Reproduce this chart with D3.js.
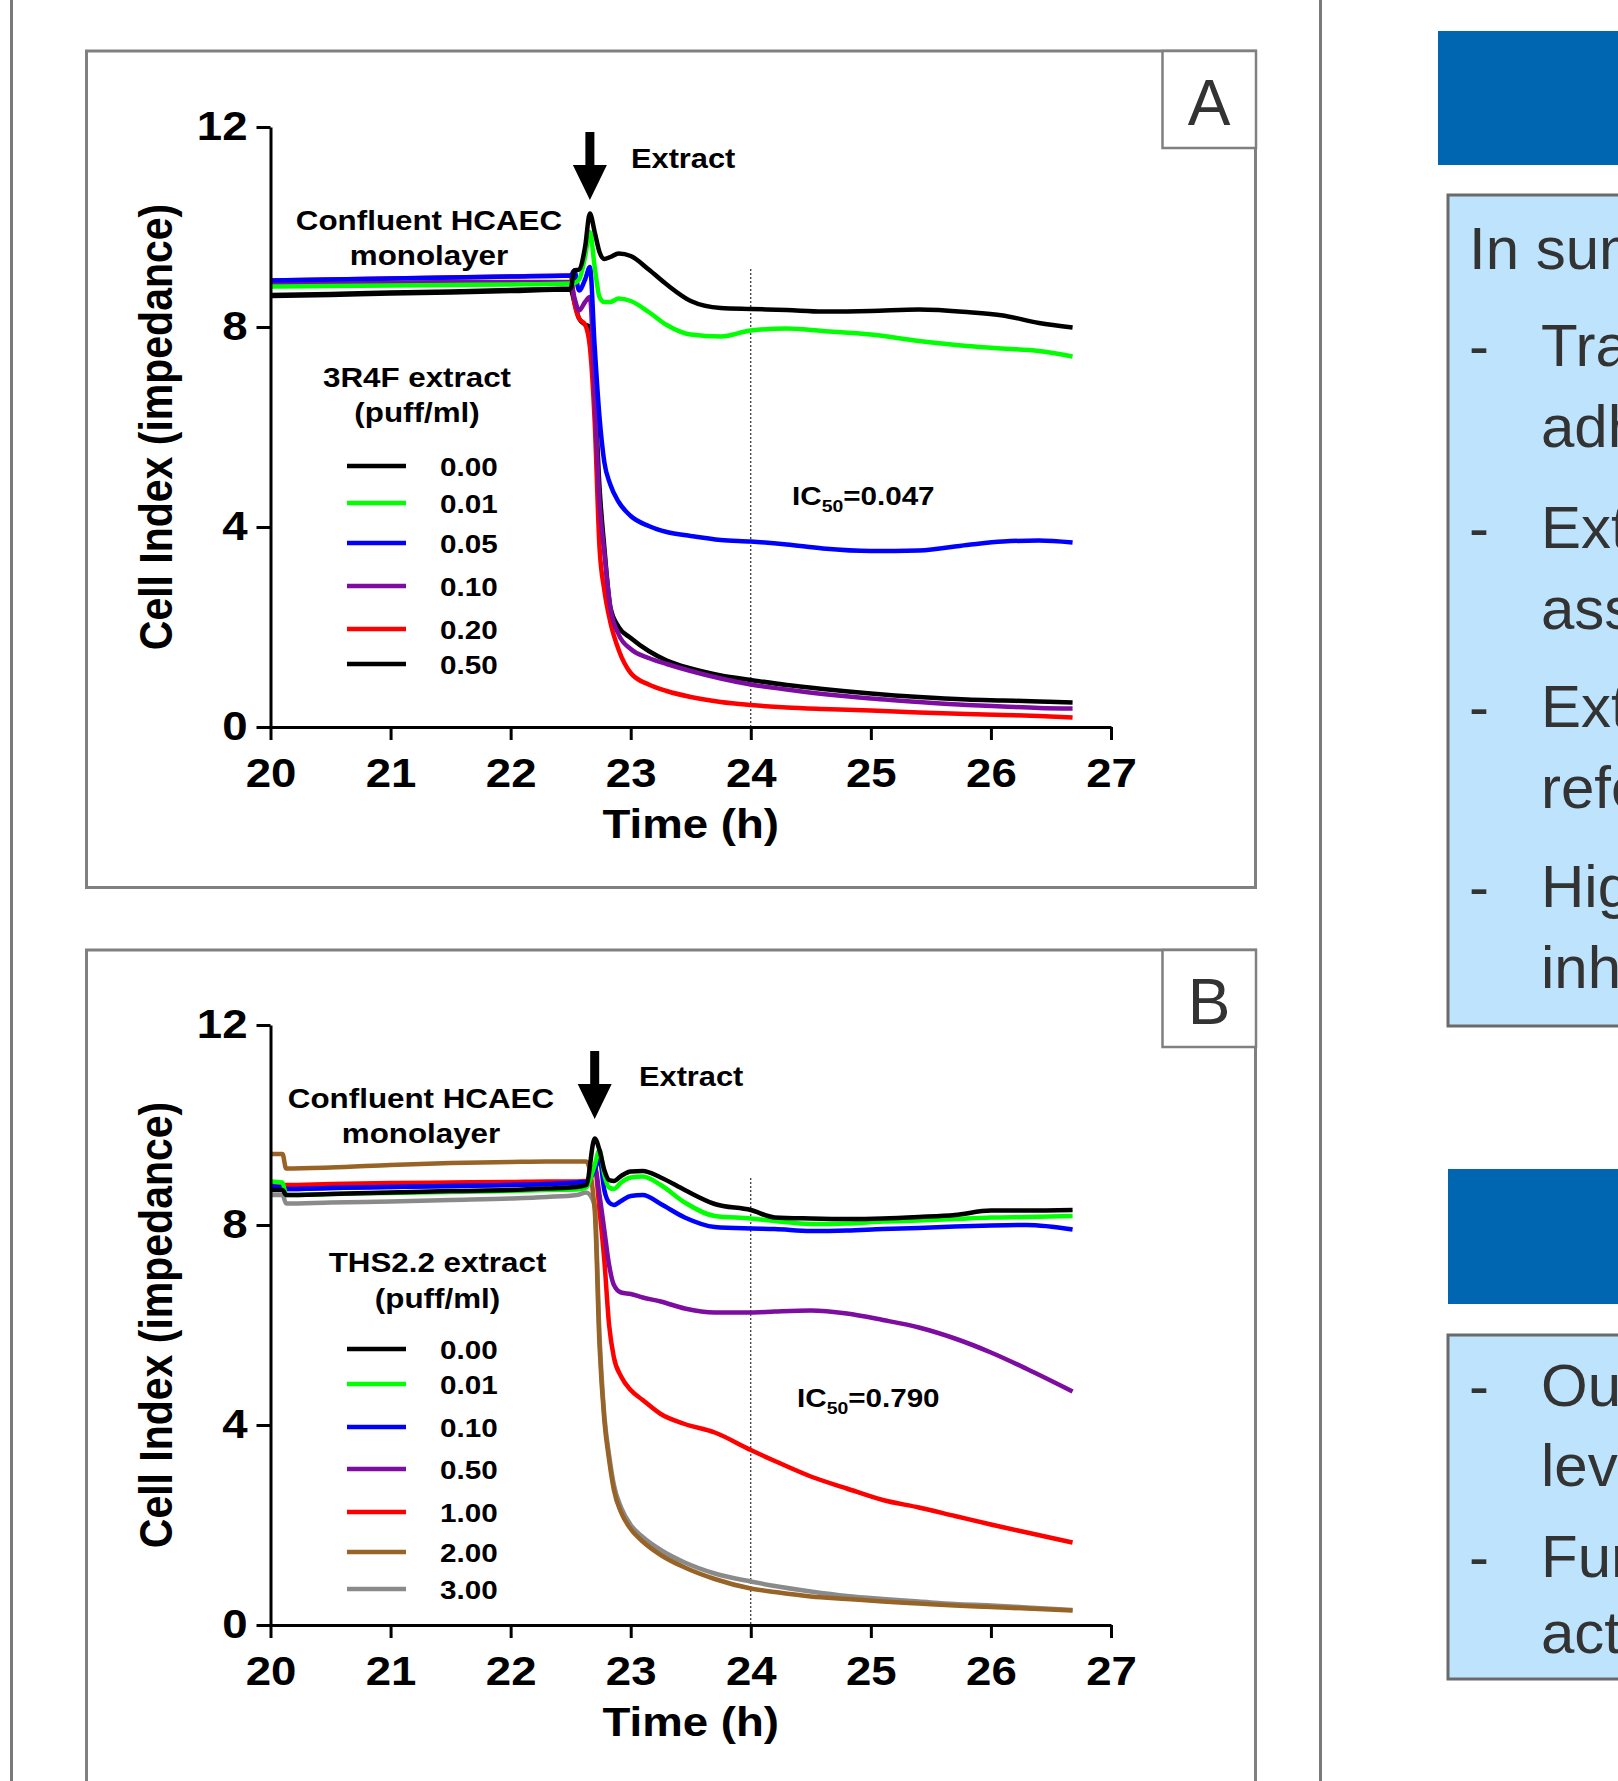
<!DOCTYPE html>
<html>
<head>
<meta charset="utf-8">
<script src="https://cdn.jsdelivr.net/npm/d3@7"></script>
<style>
  body { margin: 0; background: #fff; }
  svg { display: block; font-family: "Liberation Sans", Arial, sans-serif; }
</style>
</head>
<body>
<svg id="chart" width="1618" height="1781"></svg>
<script>
// ---- data ----
const xTicks = [20, 21, 22, 23, 24, 25, 26, 27];
const yTicks = [0, 4, 8, 12];

// Panel A: 3R4F extract
const doseA = ["0.00", "0.01", "0.05", "0.10", "0.20", "0.50"];
const colorsA = ["#000000", "#00ff00", "#0000ff", "#7d0ca0", "#ff0000", "#000000"];
const timeA = [20.0, 20.5, 21.0, 21.5, 22.0, 22.5, 22.53, 22.57, 22.62, 22.66, 22.7, 22.74, 22.78, 22.83, 22.9,
  23.0, 23.15, 23.3, 23.5, 23.75, 24.0, 24.3, 24.6, 25.0, 25.4, 25.8, 26.1, 26.4, 26.68];
const ciA_000 = [8.64, 8.66, 8.69, 8.71, 8.74, 8.77, 9.13, 9.15, 9.6, 10.27, 9.9, 9.5, 9.36, 9.4, 9.47,
  9.42, 9.15, 8.85, 8.52, 8.38, 8.36, 8.34, 8.31, 8.32, 8.35, 8.30, 8.23, 8.08, 7.99];
const ciA_001 = [8.81, 8.82, 8.83, 8.84, 8.85, 8.87, 8.88, 8.95, 9.4, 9.9, 9.2, 8.6, 8.5, 8.5, 8.57,
  8.52, 8.3, 8.04, 7.85, 7.81, 7.93, 7.97, 7.92, 7.85, 7.72, 7.62, 7.57, 7.52, 7.41];
const ciA_005 = [8.93, 8.95, 8.97, 8.99, 9.01, 9.03, 9.13, 8.73, 8.95, 9.2, 7.6, 6.2, 5.3, 4.85, 4.5,
  4.22, 4.02, 3.9, 3.82, 3.74, 3.71, 3.65, 3.57, 3.52, 3.53, 3.64, 3.71, 3.73, 3.69];
const ciA_010 = [8.85, 8.87, 8.88, 8.9, 8.9, 8.9, 8.6, 8.33, 8.5, 8.6, 6.6, 4.5, 3.5, 2.4, 1.85,
  1.56, 1.38, 1.26, 1.12, 0.97, 0.85, 0.75, 0.66, 0.57, 0.5, 0.44, 0.41, 0.38, 0.37];
const ciA_020 = [8.93, 8.95, 8.97, 8.99, 9.01, 9.03, 8.5, 8.17, 8.05, 7.6, 6.1, 3.6, 2.74, 2.1, 1.54,
  1.08, 0.85, 0.72, 0.6, 0.5, 0.44, 0.39, 0.36, 0.33, 0.29, 0.26, 0.24, 0.22, 0.19];
const ciA_050 = [8.62, 8.64, 8.67, 8.69, 8.72, 8.75, 8.5, 8.17, 8.05, 8.0, 6.8, 4.8, 3.6, 2.4, 2.0,
  1.78, 1.52, 1.33, 1.17, 1.03, 0.94, 0.84, 0.76, 0.67, 0.6, 0.55, 0.53, 0.51, 0.49];
const seriesA = [ciA_000, ciA_001, ciA_005, ciA_010, ciA_020, ciA_050];

// Panel B: THS2.2 extract
const doseB = ["0.00", "0.01", "0.10", "0.50", "1.00", "2.00", "3.00"];
const colorsB = ["#000000", "#00ff00", "#0000ff", "#7d0ca0", "#ff0000", "#986326", "#8a8a8a"];
const timeB = [20.0, 20.1, 20.13, 20.5, 21.0, 21.5, 22.0, 22.3, 22.55, 22.63, 22.7, 22.74, 22.78, 22.82, 22.86,
  22.92, 23.0, 23.1, 23.25, 23.45, 23.7, 24.0, 24.2, 24.5, 24.8, 25.1, 25.4, 25.7, 26.0, 26.3, 26.68];
const ciB_000 = [8.7, 8.7, 8.6, 8.62, 8.65, 8.68, 8.7, 8.73, 8.76, 8.8, 9.73, 9.5, 9.1, 8.9, 8.88,
  8.98, 9.07, 9.08, 8.95, 8.7, 8.42, 8.3, 8.15, 8.13, 8.12, 8.13, 8.16, 8.2, 8.29, 8.29, 8.3];
const ciB_001 = [8.87, 8.85, 8.6, 8.62, 8.64, 8.66, 8.68, 8.7, 8.71, 8.75, 9.2, 9.5, 9.0, 8.75, 8.72,
  8.85, 8.95, 8.97, 8.8, 8.45, 8.18, 8.13, 8.08, 8.02, 8.03, 8.07, 8.09, 8.12, 8.15, 8.16, 8.18];
const ciB_010 = [8.77, 8.75, 8.72, 8.74, 8.76, 8.78, 8.8, 8.82, 8.85, 8.86, 9.1, 9.33, 8.7, 8.45, 8.4,
  8.48, 8.58, 8.6, 8.42, 8.15, 7.96, 7.93, 7.92, 7.88, 7.89, 7.92, 7.94, 7.97, 7.99, 8.0, 7.91];
const ciB_050 = [8.75, 8.75, 8.72, 8.74, 8.76, 8.78, 8.8, 8.82, 8.84, 8.86, 9.17, 8.6, 7.9, 7.2, 6.8,
  6.65, 6.62, 6.55, 6.47, 6.33, 6.25, 6.25, 6.27, 6.29, 6.23, 6.1, 5.95, 5.73, 5.45, 5.12, 4.67];
const ciB_100 = [8.8, 8.8, 8.8, 8.82, 8.84, 8.85, 8.86, 8.87, 8.87, 8.88, 9.17, 8.3, 7.3, 6.0, 5.35,
  4.97, 4.7, 4.5, 4.22, 4.02, 3.85, 3.5, 3.28, 2.97, 2.73, 2.5, 2.35, 2.18, 2.01, 1.85, 1.65];
const ciB_200 = [9.42, 9.42, 9.13, 9.15, 9.2, 9.24, 9.26, 9.27, 9.27, 9.27, 8.3, 5.6, 4.1, 3.3, 2.7,
  2.25, 1.92, 1.67, 1.4, 1.15, 0.92, 0.73, 0.66, 0.57, 0.52, 0.47, 0.43, 0.39, 0.36, 0.33, 0.29];
const ciB_300 = [8.6, 8.6, 8.43, 8.45, 8.47, 8.5, 8.53, 8.56, 8.6, 8.65, 8.4, 5.8, 4.2, 3.4, 2.8,
  2.35, 2.0, 1.76, 1.5, 1.25, 1.03, 0.87, 0.78, 0.67, 0.58, 0.52, 0.47, 0.42, 0.39, 0.35, 0.30];
const seriesB = [ciB_000, ciB_001, ciB_010, ciB_050, ciB_100, ciB_200, ciB_300];

// ---- layout ----
const SX = 1.14; // the original figure is stretched horizontally
const svg = d3.select("#chart");
const x = d3.scaleLinear().domain([20, 27]).range([270.5, 1111]);

function txt(g, px, py, s, size, anchor = "start", weight = "bold") {
  return g.append("text")
    .attr("transform", `translate(${px},${py}) scale(${SX},1)`)
    .attr("text-anchor", anchor)
    .style("font-size", size + "px")
    .style("font-weight", weight)
    .text(s);
}

// page frame lines
svg.append("line").attr("x1", 11.5).attr("x2", 11.5).attr("y1", 0).attr("y2", 1781)
  .attr("stroke", "#7a7a7a").attr("stroke-width", 3);
svg.append("line").attr("x1", 1320.5).attr("x2", 1320.5).attr("y1", 0).attr("y2", 1781)
  .attr("stroke", "#7a7a7a").attr("stroke-width", 3);

const panels = [
  { letter: "A", top: 51, height: 836.5, y0: 727, times: timeA, series: seriesA, doses: doseA, colors: colorsA,
    conf: [429, 230, 265], legTitle: ["3R4F extract", "(puff/ml)", 417, 387, 422],
    rows: [466, 503, 543, 586, 629, 664], extract: [631, 168], arrow: [22.66, 10.54],
    ic: [792, 505, "=0.047"], dotTop: 9.16 },
  { letter: "B", top: 950, height: 900, y0: 1625, times: timeB, series: seriesB, doses: doseB, colors: colorsB,
    conf: [421, 1108, 1143], legTitle: ["THS2.2 extract", "(puff/ml)", 437.5, 1272, 1308],
    rows: [1349, 1384, 1427, 1469, 1512, 1552, 1589], extract: [639, 1086], arrow: [22.70, 10.12],
    ic: [797, 1407, "=0.790"], dotTop: 8.94 }
];

panels.forEach(p => {
  const g = svg.append("g");
  const y = d3.scaleLinear().domain([0, 12]).range([p.y0, p.y0 - 600]);

  // panel frame and letter box
  g.append("rect").attr("x", 86.5).attr("y", p.top).attr("width", 1169).attr("height", p.height)
    .attr("fill", "none").attr("stroke", "#808080").attr("stroke-width", 3);
  g.append("rect").attr("x", 1162.5).attr("y", p.top).attr("width", 93.5).attr("height", 97)
    .attr("fill", "#fff").attr("stroke", "#808080").attr("stroke-width", 2.5);
  g.append("text").attr("x", 1209).attr("y", p.top + 74).attr("text-anchor", "middle")
    .style("font-size", "64px").attr("fill", "#333").text(p.letter);

  // dotted line at 24 h
  g.append("line").attr("x1", x(24)).attr("x2", x(24)).attr("y1", y(p.dotTop)).attr("y2", y(0))
    .attr("stroke", "#000").attr("stroke-width", 1).attr("stroke-dasharray", "2,2");

  // lines (first dose drawn last, on top)
  const line = d3.line().x((d, i) => x(p.times[i])).y(d => y(d)).curve(d3.curveMonotoneX);
  for (let k = p.series.length - 1; k >= 0; k--) {
    g.append("path").datum(p.series[k])
      .attr("d", line).attr("fill", "none")
      .attr("stroke", p.colors[k]).attr("stroke-width", 4.5)
      .attr("stroke-linejoin", "round");
  }

  // axes
  const ax = g.append("g").attr("transform", `translate(0,${p.y0})`)
    .call(d3.axisBottom(x).tickValues(xTicks).tickSize(13).tickSizeOuter(0).tickFormat(d3.format("d")));
  ax.selectAll("text").attr("y", 31.6).attr("transform", `scale(${SX},1)`);
  const ay = g.append("g").attr("transform", `translate(${x(20)},0)`)
    .call(d3.axisLeft(y).tickValues(yTicks).tickSize(14).tickSizeOuter(0));
  ay.selectAll("text").attr("x", -23 / SX).attr("transform", `scale(${SX},1)`);
  [ax, ay].forEach(a => {
    a.select(".domain").attr("stroke", "#000").attr("stroke-width", 3);
    a.selectAll(".tick line").attr("stroke", "#000").attr("stroke-width", 3);
    a.selectAll("text").attr("fill", "#000").style("font-size", "40px").style("font-weight", "bold")
      .style("font-family", "'Liberation Sans', Arial, sans-serif");
  });

  // axis titles
  txt(g, x(23.5), p.y0 + 111, "Time (h)", 40, "middle");
  g.append("text")
    .attr("transform", `translate(172,${y(6)}) scale(${SX},1) rotate(-90)`)
    .attr("text-anchor", "middle").style("font-size", "41px").style("font-weight", "bold")
    .text("Cell Index (impedance)");

  // annotations
  txt(g, p.conf[0], p.conf[1], "Confluent HCAEC", 27.5, "middle");
  txt(g, p.conf[0], p.conf[2], "monolayer", 27.5, "middle");
  txt(g, p.extract[0], p.extract[1], "Extract", 27, "start");
  const ax0 = x(p.arrow[0]), tip = y(p.arrow[1]);
  g.append("path")
    .attr("d", `M${ax0 - 4.5},${tip - 68} L${ax0 + 4.5},${tip - 68} L${ax0 + 4.5},${tip - 35} L${ax0 + 17},${tip - 35}
      L${ax0},${tip} L${ax0 - 17},${tip - 35} L${ax0 - 4.5},${tip - 35} Z`)
    .attr("fill", "#000");

  const ic = g.append("text")
    .attr("transform", `translate(${p.ic[0]},${p.ic[1]}) scale(${SX},1)`)
    .style("font-size", "26px").style("font-weight", "bold");
  ic.append("tspan").text("IC");
  ic.append("tspan").attr("dy", 7).style("font-size", "17px").text("50");
  ic.append("tspan").attr("dy", -7).text(p.ic[2]);

  // legend
  txt(g, p.legTitle[2], p.legTitle[3], p.legTitle[0], 27.5, "middle");
  txt(g, p.legTitle[2], p.legTitle[4], p.legTitle[1], 27.5, "middle");
  p.doses.forEach((d, i) => {
    const ry = p.rows[i];
    g.append("line").attr("x1", 347).attr("x2", 406).attr("y1", ry).attr("y2", ry)
      .attr("stroke", p.colors[i]).attr("stroke-width", 4.5);
    txt(g, 440, ry + 9.5, d, 26, "start");
  });
});

// ---- right column (cut off by the page edge, as in the original) ----
const side = svg.append("g").style("font-size", "60px").attr("fill", "#333");
side.append("rect").attr("x", 1438).attr("y", 31).attr("width", 200).attr("height", 134).attr("fill", "#0066b2");
side.append("rect").attr("x", 1448).attr("y", 195).attr("width", 200).attr("height", 831)
  .attr("fill", "#bee3fd").attr("stroke", "#6a6a6a").attr("stroke-width", 3);
side.append("rect").attr("x", 1448).attr("y", 1169).attr("width", 200).attr("height", 135).attr("fill", "#0066b2");
side.append("rect").attr("x", 1448).attr("y", 1335).attr("width", 200).attr("height", 344)
  .attr("fill", "#bee3fd").attr("stroke", "#6a6a6a").attr("stroke-width", 3);

const summaryLines = [
  ["", "In summary:", 269],
  ["-", "Transient increase of cell", 366],
  ["", "adhesion after exposure", 447],
  ["-", "Extract of 3R4F reduced", 548],
  ["", "associated impedance", 629],
  ["-", "Extract of THS2.2 versus", 727],
  ["", "reference cigarette", 808],
  ["-", "Higher concentration of", 907],
  ["", "inhibitory effect", 988],
  ["-", "Our data show lower", 1406],
  ["", "levels of toxicity", 1486],
  ["-", "Further studies on", 1577],
  ["", "activity are needed", 1653]
];
summaryLines.forEach(([dash, s, yy]) => {
  if (dash) side.append("text").attr("x", 1469).attr("y", yy).text(dash);
  side.append("text").attr("x", s.startsWith("In ") ? 1469 : 1541).attr("y", yy).text(s);
});
</script>
</body>
</html>
